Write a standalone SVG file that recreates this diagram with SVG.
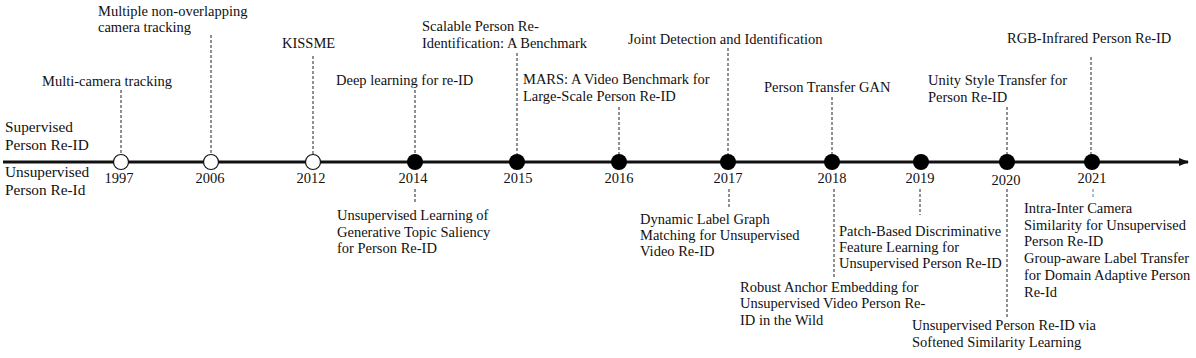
<svg xmlns="http://www.w3.org/2000/svg" width="1196" height="358" viewBox="0 0 1196 358">
<style>
text{font-family:'Liberation Serif','Times New Roman',Times,serif;font-size:14.5px;fill:#111}
.yr{font-size:14.5px;text-anchor:middle}
.lg{font-size:15.3px}
.dash{stroke:#222;stroke-width:1;stroke-dasharray:3,2;fill:none}
.open{fill:#fff;stroke:#111;stroke-width:1.2}
.full{fill:#000}
</style>
<defs>
<marker id="arr" viewBox="0 0 10 10" refX="9" refY="5" markerWidth="10" markerHeight="10" markerUnits="userSpaceOnUse" orient="auto">
<path d="M0,1 L10,5 L0,9 Z" fill="#111"/>
</marker>
</defs>
<rect width="1196" height="358" fill="#fff"/>
<g id="connectors">
<line x1="3" y1="162" x2="1188" y2="162" stroke="#111" stroke-width="3" marker-end="url(#arr)"/>
<line class="dash" x1="121" y1="90" x2="121" y2="155"/>
<line class="dash" x1="211" y1="35" x2="211" y2="155"/>
<line class="dash" x1="313" y1="56" x2="313" y2="155"/>
<line class="dash" x1="415" y1="90" x2="415" y2="155"/>
<line class="dash" x1="415" y1="189" x2="415" y2="202"/>
<line class="dash" x1="517" y1="53" x2="517" y2="155"/>
<line class="dash" x1="619" y1="107" x2="619" y2="155"/>
<line class="dash" x1="728" y1="48" x2="728" y2="155"/>
<line class="dash" x1="729" y1="189" x2="729" y2="207"/>
<line class="dash" x1="832" y1="97" x2="832" y2="155"/>
<line class="dash" x1="834" y1="189" x2="834" y2="278"/>
<line class="dash" x1="920" y1="189" x2="920" y2="215"/>
<line class="dash" x1="1007" y1="107" x2="1007" y2="155"/>
<line class="dash" x1="1007" y1="189" x2="1007" y2="317"/>
<line class="dash" x1="1091" y1="57" x2="1091" y2="155"/>
<line class="dash" x1="1093" y1="189" x2="1093" y2="197" style="stroke:#5a7fb0"/>
</g>
<g font-family="'Liberation Serif','Times New Roman',serif">
<g id="legend">
<text class="lg" x="5" y="132">Supervised</text>
<text class="lg" x="5" y="150">Person Re-ID</text>
<text class="lg" x="5" y="177">Unsupervised</text>
<text class="lg" x="5" y="195">Person Re-Id</text>
</g>
<g id="n1997"><circle class="open" cx="121" cy="162" r="7.5"/><text class="yr" x="119" y="183">1997</text><text x="42" y="86">Multi-camera tracking</text></g>
<g id="n2006"><circle class="open" cx="211" cy="162" r="7.5"/><text class="yr" x="210" y="183">2006</text><text x="98" y="16">Multiple non-overlapping</text><text x="98" y="32">camera tracking</text></g>
<g id="n2012"><circle class="open" cx="313" cy="162" r="7.5"/><text class="yr" x="311" y="183">2012</text><text x="282" y="48">KISSME</text></g>
<g id="n2014"><circle class="full" cx="415" cy="162" r="8"/><text class="yr" x="413" y="183">2014</text><text x="336" y="85">Deep learning for re-ID</text><text x="337" y="220">Unsupervised Learning of</text><text x="337" y="237">Generative Topic Saliency</text><text x="337" y="253">for Person Re-ID</text></g>
<g id="n2015"><circle class="full" cx="517" cy="162" r="8"/><text class="yr" x="518" y="183">2015</text><text x="422" y="31">Scalable Person Re-</text><text x="422" y="48">Identification: A Benchmark</text></g>
<g id="n2016"><circle class="full" cx="619" cy="162" r="8"/><text class="yr" x="619" y="183">2016</text><text x="523" y="84">MARS: A Video Benchmark for</text><text x="523" y="101">Large-Scale Person Re-ID</text></g>
<g id="n2017"><circle class="full" cx="728" cy="162" r="8"/><text class="yr" x="728" y="183">2017</text><text x="628" y="44">Joint Detection and Identification</text><text x="640" y="224">Dynamic Label Graph</text><text x="640" y="240">Matching for Unsupervised</text><text x="640" y="256">Video Re-ID</text></g>
<g id="n2018"><circle class="full" cx="832" cy="162" r="8"/><text class="yr" x="832" y="183">2018</text><text x="764" y="92">Person Transfer GAN</text><text x="740" y="292">Robust Anchor Embedding for</text><text x="740" y="308">Unsupervised Video Person Re-</text><text x="740" y="325">ID in the Wild</text></g>
<g id="n2019"><circle class="full" cx="921" cy="162" r="8"/><text class="yr" x="920" y="183">2019</text><text x="839" y="236">Patch-Based Discriminative</text><text x="839" y="252">Feature Learning for</text><text x="839" y="268">Unsupervised Person Re-ID</text></g>
<g id="n2020"><circle class="full" cx="1007" cy="162" r="8"/><text class="yr" x="1006" y="185">2020</text><text x="928" y="85">Unity Style Transfer for</text><text x="928" y="102">Person Re-ID</text><text x="912" y="330">Unsupervised Person Re-ID via</text><text x="912" y="347">Softened Similarity Learning</text></g>
<g id="n2021"><circle class="full" cx="1092" cy="162" r="8"/><text class="yr" x="1092" y="183">2021</text><text x="1007" y="43">RGB-Infrared Person Re-ID</text><text x="1024" y="213">Intra-Inter Camera</text><text x="1024" y="230">Similarity for Unsupervised</text><text x="1024" y="246">Person Re-ID</text><text x="1024" y="263">Group-aware Label Transfer</text><text x="1024" y="280">for Domain Adaptive Person</text><text x="1024" y="297">Re-Id</text></g>
</g>
</svg>
